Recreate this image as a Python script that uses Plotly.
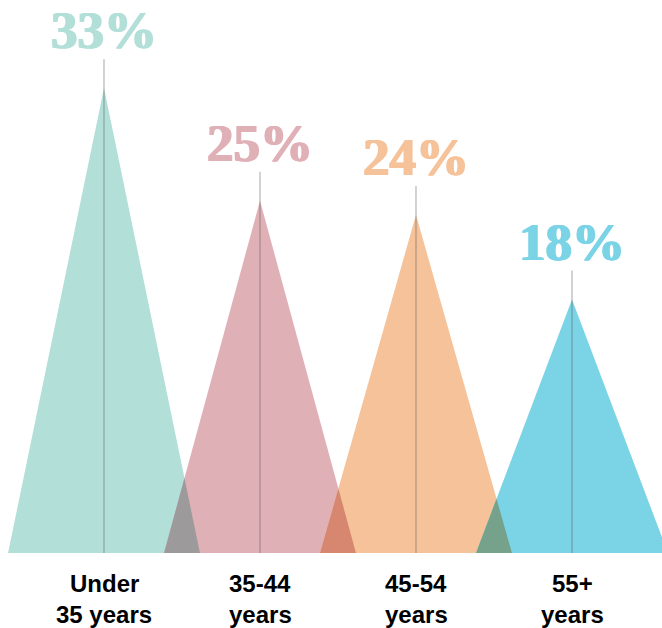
import plotly.graph_objects as go

# ---- data ----
categories = ["Under<br>35 years", "35-44<br>years", "45-54<br>years", "55+<br>years"]
shares = [33, 25, 24, 18]
share_labels = ["33%", "25%", "24%", "18%"]
colors = ["#B2DFD8", "#E0B0B7", "#F5C29A", "#7BD3E6"]

# ---- geometry / style ----
HALF_W = 0.615        # half base width in category units
LINE_EXT = 2.05       # how far the stem rises above each apex (in % units)
W, H = 662, 628
B_MARGIN = 75
PX_PER_UNIT = 156     # pixels per category step
X0_PX = 104           # pixel of the first category centre
plot_h = H - B_MARGIN
y_top = plot_h / 14.09
x_min = -X0_PX / PX_PER_UNIT
x_max = (W - X0_PX) / PX_PER_UNIT


def hex_rgb(h):
    h = h.lstrip("#")
    return tuple(int(h[i:i + 2], 16) for i in (0, 2, 4))


def multiply(c1, c2):
    a, b = hex_rgb(c1), hex_rgb(c2)
    return "rgb(%d,%d,%d)" % tuple(round(x * y / 255) for x, y in zip(a, b))


fig = go.Figure()

# main triangles
for i, (v, c) in enumerate(zip(shares, colors)):
    fig.add_trace(go.Scatter(
        x=[i - HALF_W, i, i + HALF_W, i - HALF_W],
        y=[0, v, 0, 0],
        fill="toself", fillcolor=c, mode="lines",
        line=dict(width=0, color=c), hoverinfo="skip", showlegend=False))

# overlaps (multiply blend)
for i in range(len(shares) - 1):
    h1, h2 = shares[i], shares[i + 1]
    c1, c2 = i, i + 1
    xi = (h1 * (c1 + HALF_W) + h2 * (c2 - HALF_W)) / (h1 + h2)
    yi = h1 * (c1 + HALF_W - xi) / HALF_W
    fig.add_trace(go.Scatter(
        x=[c2 - HALF_W, xi, c1 + HALF_W, c2 - HALF_W],
        y=[0, yi, 0, 0],
        fill="toself", fillcolor=multiply(colors[i], colors[i + 1]), mode="lines",
        line=dict(width=0), hoverinfo="skip", showlegend=False))

# stems
for i, v in enumerate(shares):
    fig.add_trace(go.Scatter(
        x=[i, i], y=[0, v + LINE_EXT], mode="lines",
        line=dict(width=1.2, color="rgba(90,90,90,0.45)"),
        hoverinfo="skip", showlegend=False))

annotations = []
for i, (v, lab, c) in enumerate(zip(shares, share_labels, colors)):
    shadow = "1px 0 0 %s, -1px 0 0 %s" % (c, c)
    annotations.append(dict(
        x=i, y=v + LINE_EXT, xref="x", yref="y", text=lab, showarrow=False,
        yanchor="middle", yshift=29,
        font=dict(family="Liberation Serif", size=53, color=c, weight=900,
                  shadow=shadow)))
    for j, line in enumerate(categories[i].split("<br>")):
        annotations.append(dict(
            x=i, y=0, xref="x", yref="paper", text=line,
            showarrow=False, yanchor="middle", yshift=-30 - 31 * j,
            font=dict(family="Liberation Sans", size=24, color="#000000",
                      weight="bold")))

fig.update_layout(
    width=W, height=H,
    margin=dict(l=0, r=0, t=0, b=B_MARGIN),
    paper_bgcolor="white", plot_bgcolor="white",
    xaxis=dict(range=[x_min, x_max], visible=False, fixedrange=True),
    yaxis=dict(range=[0, y_top], visible=False, fixedrange=True),
    annotations=annotations,
    showlegend=False,
)

fig.write_html("out.html", config={"displayModeBar": False},
               post_script="document.body.style.margin='0';document.body.style.overflow='hidden';")
